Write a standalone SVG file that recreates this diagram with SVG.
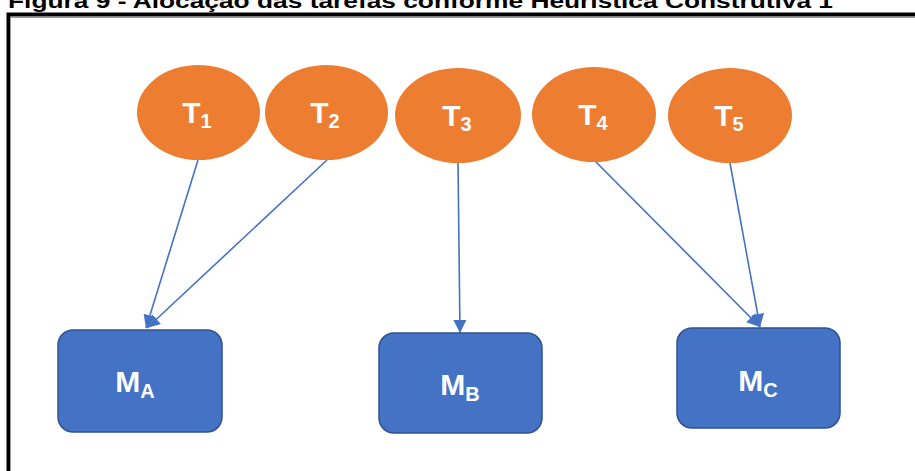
<svg xmlns="http://www.w3.org/2000/svg" width="915" height="471" viewBox="0 0 915 471">
<style>
.title{font-family:"Liberation Sans",Arial,sans-serif;font-weight:bold;font-size:21px;fill:#000}
.task ellipse{fill:#ED7D31}
.mach rect{fill:#4472C4;stroke:#2F528F;stroke-width:1.5}
.lbl{font-family:"Liberation Sans",Arial,sans-serif;font-weight:bold;fill:#fff;font-size:30px}
.sub{font-size:20px}
.conn line{stroke:#4472C4;stroke-width:1.6;marker-end:url(#arr)}
</style>
<defs>
<marker id="arr" viewBox="0 0 10 10" refX="10" refY="5" markerUnits="userSpaceOnUse" markerWidth="14" markerHeight="13" orient="auto">
<path d="M0,0 L10,5 L0,10 Z" fill="#4472C4"/>
</marker>
</defs>
<rect x="0" y="0" width="915" height="471" fill="#fff"/>
<text class="title" x="8" y="8" textLength="825" lengthAdjust="spacingAndGlyphs">Figura 9 - Alocação das tarefas conforme Heurística Construtiva 1</text>
<path d="M8.5,471 V14.5 H915" fill="none" stroke="#000" stroke-width="4"/>
<path d="M10.5,471 V17.5 H915" fill="none" stroke="#999" stroke-width="1"/>
<g class="conn" id="connectors">
<line x1="198" y1="160" x2="146" y2="328"/>
<line x1="327" y1="160" x2="147" y2="328"/>
<line x1="458" y1="163" x2="460" y2="333"/>
<line x1="595" y1="161" x2="760" y2="327"/>
<line x1="730" y1="163" x2="760" y2="327"/>
</g>
<g class="task" id="T1"><ellipse cx="198.5" cy="112.5" rx="61.5" ry="47.5"/><text class="lbl" x="197" y="123" text-anchor="middle">T<tspan class="sub" dy="5">1</tspan></text></g>
<g class="task" id="T2"><ellipse cx="326.5" cy="112.5" rx="61.5" ry="47.5"/><text class="lbl" x="325" y="123" text-anchor="middle">T<tspan class="sub" dy="5">2</tspan></text></g>
<g class="task" id="T3"><ellipse cx="458" cy="115.5" rx="63" ry="47.5"/><text class="lbl" x="457" y="126" text-anchor="middle">T<tspan class="sub" dy="5">3</tspan></text></g>
<g class="task" id="T4"><ellipse cx="594" cy="114.5" rx="62" ry="47.5"/><text class="lbl" x="593" y="125" text-anchor="middle">T<tspan class="sub" dy="5">4</tspan></text></g>
<g class="task" id="T5"><ellipse cx="730" cy="115.5" rx="62" ry="47.5"/><text class="lbl" x="729" y="126" text-anchor="middle">T<tspan class="sub" dy="5">5</tspan></text></g>
<g class="mach" id="MA"><rect x="58" y="330" width="164" height="102" rx="15"/><text class="lbl" x="135" y="392" text-anchor="middle">M<tspan class="sub" dy="6">A</tspan></text></g>
<g class="mach" id="MB"><rect x="379" y="333" width="163" height="100" rx="15"/><text class="lbl" x="460" y="395" text-anchor="middle">M<tspan class="sub" dy="6">B</tspan></text></g>
<g class="mach" id="MC"><rect x="677" y="328" width="163" height="100" rx="15"/><text class="lbl" x="758" y="391" text-anchor="middle">M<tspan class="sub" dy="6">C</tspan></text></g>
</svg>
